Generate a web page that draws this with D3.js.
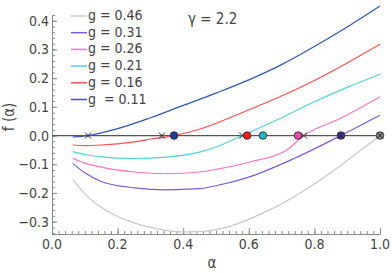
<!DOCTYPE html>
<html>
<head>
<meta charset="utf-8">
<script src="https://cdn.jsdelivr.net/npm/d3@7"></script>
<style>
  html, body { margin: 0; padding: 0; background: #fff; }
  svg text { font-family: "Liberation Sans Narrow", "DejaVu Sans Condensed", "Liberation Sans", sans-serif; }
</style>
</head>
<body>
<div id="chart"></div>
<script>
"use strict";

/* ── Data ── */
const gLabels = ["g = 0.46", "g = 0.31", "g = 0.26", "g = 0.21", "g = 0.16", "g  = 0.11"];
const colours = ["#c8c8c8", "#7b5ad8", "#ff73c8", "#52d2dc", "#ff5050", "#2f58b8"];

const alpha046 = [0.063, 0.1, 0.15, 0.2, 0.25, 0.3, 0.35, 0.4, 0.45, 0.5, 0.665, 1.0];
const f046     = [-0.152, -0.203, -0.25, -0.282, -0.304, -0.32, -0.331, -0.336, -0.335, -0.328, -0.258, 0.0];

const alpha031 = [0.063, 0.1, 0.15, 0.25, 0.35, 0.45, 0.5, 0.6, 0.74, 0.881, 1.0];
const f031     = [-0.097, -0.13, -0.16, -0.182, -0.189, -0.185, -0.175, -0.145, -0.079, 0.0, 0.071];

const alpha026 = [0.063, 0.1, 0.15, 0.25, 0.35, 0.45, 0.5, 0.6, 0.716, 0.768, 0.88, 1.0];
const f026     = [-0.079, -0.096, -0.11, -0.127, -0.133, -0.127, -0.118, -0.093, -0.05, 0.0, 0.06, 0.135];

const alpha021 = [0.063, 0.1, 0.15, 0.25, 0.35, 0.45, 0.5, 0.58, 0.7, 0.8, 0.9, 1.0];
const f021     = [-0.056, -0.066, -0.074, -0.08, -0.075, -0.058, -0.04, 0.0, 0.062, 0.118, 0.168, 0.214];

const alpha016 = [0.063, 0.1, 0.15, 0.25, 0.3, 0.37, 0.45, 0.6, 0.7, 0.8, 0.9, 1.0];
const f016     = [-0.033, -0.035, -0.033, -0.022, -0.013, 0.0, 0.022, 0.09, 0.138, 0.192, 0.253, 0.318];

const alpha011 = [0.063, 0.11, 0.2, 0.3, 0.4, 0.5, 0.6, 0.7, 0.8, 0.9, 1.0];
const f011     = [-0.005, 0.0, 0.024, 0.062, 0.105, 0.148, 0.194, 0.247, 0.31, 0.378, 0.451];

const seriesAlpha = [alpha046, alpha031, alpha026, alpha021, alpha016, alpha011];
const seriesF     = [f046, f031, f026, f021, f016, f011];

/* markers on the f = 0 line */
const crossAlpha  = [0.11, 0.335, 0.58, 0.768, 0.881, 1.0];
const circleAlpha = [0.372, 0.595, 0.643, 0.75, 0.881, 1.0];
const circleFill  = ["#1d3f9c", "#ff1e1e", "#22b4c4", "#e34ca8", "#4b2f9a", "#8a8a8a"];

const xTicks = [0, 0.2, 0.4, 0.6, 0.8, 1.0];
const yTicks = [-0.3, -0.2, -0.1, 0.0, 0.1, 0.2, 0.3, 0.4];

/* ── Dimensions ── */
const W = 392, H = 273;
const plot = { left: 52, right: 380, top: 15, bottom: 234 };

const svg = d3.select("#chart").append("svg")
  .attr("width", W).attr("height", H);

/* ── Scales ── */
const x = d3.scaleLinear().domain([0, 1]).range([plot.left, plot.right]);
const y = d3.scaleLinear().domain([-0.343, 0.42]).range([plot.bottom, plot.top]);

const axisCol = "#8a8a8a";
const textCol = "#444";

/* ── Y axis (ticks point inward) ── */
const yMinor = d3.range(-0.34, 0.42001, 0.02).map(v => +v.toFixed(2));
svg.append("g")
  .attr("transform", `translate(${plot.left},0)`)
  .call(d3.axisRight(y).tickValues(yMinor).tickSize(3).tickFormat(""))
  .call(g => {
    g.select(".domain").remove();
    g.selectAll(".tick line").attr("stroke", axisCol);
  });
svg.append("g")
  .attr("transform", `translate(${plot.left},0)`)
  .call(d3.axisRight(y).tickValues(yTicks).tickSize(5).tickFormat(""))
  .call(g => {
    g.select(".domain").remove();
    g.selectAll(".tick line").attr("stroke", axisCol);
  });
svg.append("line")
  .attr("x1", plot.left + 0.5).attr("x2", plot.left + 0.5)
  .attr("y1", plot.top).attr("y2", plot.bottom)
  .attr("stroke", axisCol);
svg.append("g").selectAll("text")
  .data(yTicks)
  .join("text")
  .attr("x", plot.left - 3)
  .attr("y", d => y(d) + 5)
  .attr("text-anchor", "end")
  .attr("font-size", "14px")
  .attr("fill", textCol)
  .text(d => d3.format(".1f")(d));

/* ── X axis ── */
const xMinor = d3.range(0, 1.0001, 0.02).map(v => +v.toFixed(2));
svg.append("g")
  .attr("transform", `translate(0,${plot.bottom})`)
  .call(d3.axisTop(x).tickValues(xMinor).tickSize(3).tickFormat(""))
  .call(g => {
    g.select(".domain").remove();
    g.selectAll(".tick line").attr("stroke", axisCol);
  });
svg.append("g")
  .attr("transform", `translate(0,${plot.bottom})`)
  .call(d3.axisTop(x).tickValues(xTicks).tickSize(6).tickFormat(""))
  .call(g => {
    g.select(".domain").remove();
    g.selectAll(".tick line").attr("stroke", axisCol);
  });
svg.append("line")
  .attr("x1", plot.left).attr("x2", plot.right + 0.5)
  .attr("y1", plot.bottom + 0.5).attr("y2", plot.bottom + 0.5)
  .attr("stroke", axisCol);
svg.append("g").selectAll("text")
  .data(xTicks)
  .join("text")
  .attr("x", d => x(d))
  .attr("y", plot.bottom + 15)
  .attr("text-anchor", "middle")
  .attr("font-size", "14px")
  .attr("fill", textCol)
  .text(d => d3.format(".1f")(d));

/* ── Axis titles ── */
svg.append("text")
  .attr("x", x(0.5) - 4).attr("y", 268)
  .attr("text-anchor", "middle")
  .attr("font-size", "15px")
  .attr("fill", textCol)
  .text("α");
svg.append("text")
  .attr("transform", `translate(14,${y(0.065)}) rotate(-90)`)
  .attr("text-anchor", "middle")
  .attr("font-size", "15px")
  .attr("fill", textCol)
  .text("f (α)");

/* ── Zero line ── */
svg.append("line")
  .attr("x1", plot.left).attr("x2", plot.right)
  .attr("y1", y(0)).attr("y2", y(0))
  .attr("stroke", "#555").attr("stroke-width", 1.2);

/* ── Curves ── */
const line = d3.line()
  .x(d => x(d[0])).y(d => y(d[1]))
  .curve(d3.curveMonotoneX);
svg.append("g").selectAll("path")
  .data(seriesAlpha.map((a, i) => a.map((v, j) => [v, seriesF[i][j]])))
  .join("path")
  .attr("d", line)
  .attr("fill", "none")
  .attr("stroke", (_, i) => colours[i])
  .attr("stroke-width", 1.2);

/* ── Markers on zero line ── */
svg.append("g").selectAll("circle")
  .data(circleAlpha)
  .join("circle")
  .attr("cx", d => x(d)).attr("cy", y(0))
  .attr("r", 3.8)
  .attr("fill", (_, i) => circleFill[i])
  .attr("stroke", "#222").attr("stroke-width", 0.8);

svg.append("g").selectAll("path")
  .data(crossAlpha)
  .join("path")
  .attr("d", d => {
    const cx = x(d), cy = y(0), s = 3;
    return `M${cx - s},${cy - s}L${cx + s},${cy + s}M${cx - s},${cy + s}L${cx + s},${cy - s}`;
  })
  .attr("stroke", "#222").attr("stroke-width", 1);

/* ── Legend ── */
const legend = svg.append("g");
gLabels.forEach((lab, i) => {
  const ly = 16 + i * 16.7;
  legend.append("line")
    .attr("x1", 71).attr("x2", 87)
    .attr("y1", ly).attr("y2", ly)
    .attr("stroke", colours[i]).attr("stroke-width", 1.5);
  legend.append("text")
    .attr("x", 88).attr("y", ly + 4)
    .attr("font-size", "14px")
    .attr("fill", textCol)
    .attr("xml:space", "preserve")
    .style("white-space", "pre")
    .text(lab);
});

/* ── Annotation ── */
svg.append("text")
  .attr("x", 188).attr("y", 24)
  .attr("font-size", "15px")
  .attr("fill", textCol)
  .text("γ = 2.2");
</script>
</body>
</html>
